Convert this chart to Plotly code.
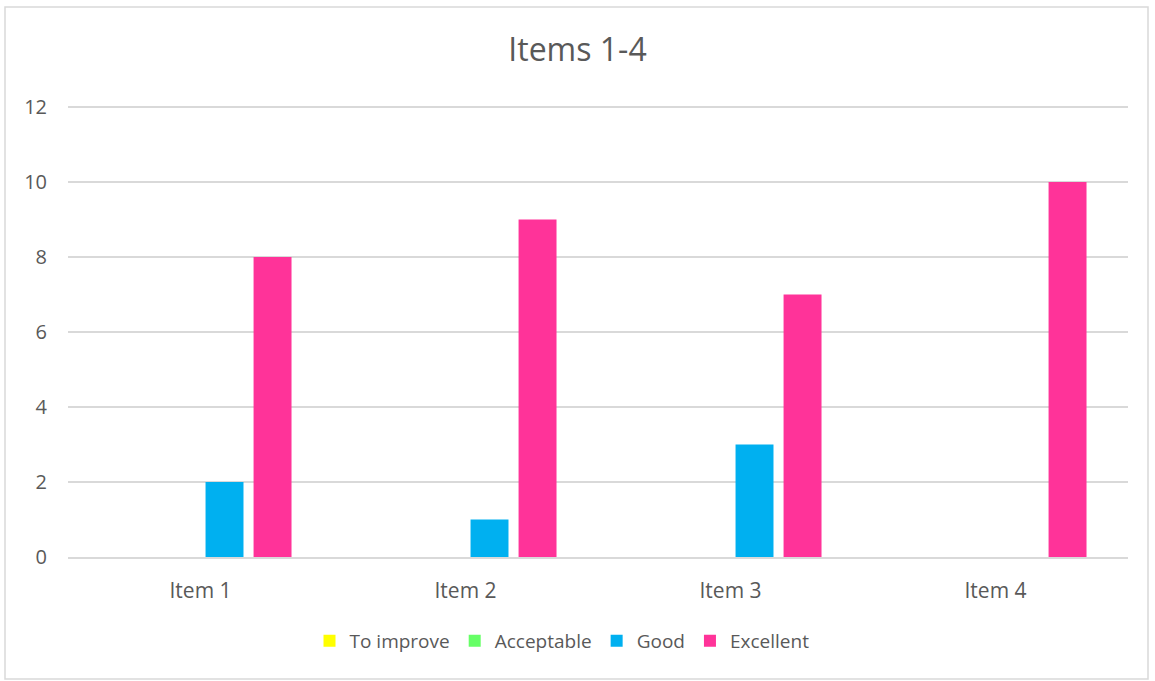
import plotly.graph_objects as go

categories = ["Item 1", "Item 2", "Item 3", "Item 4"]
series_names = ["To improve", "Acceptable", "Good", "Excellent"]
to_improve = [0, 0, 0, 0]
acceptable = [0, 0, 0, 0]
good = [2, 1, 3, 0]
excellent = [8, 9, 7, 10]
colors = ["#FFFF00", "#66FF66", "#00B0F0", "#FF3399"]
y_ticks = [0, 2, 4, 6, 8, 10, 12]

W, H = 1155, 681
L, R, T, B = 68, 27, 106, 124
pw, ph = W - L - R, H - T - B

fig = go.Figure()
for name, vals, col in zip(series_names, [to_improve, acceptable, good, excellent], colors):
    fig.add_trace(go.Bar(x=categories, y=vals, name=name, marker=dict(color=col, line=dict(width=0))))

font = "Open Sans, Liberation Sans, sans-serif"
fig.update_layout(
    width=W, height=H,
    margin=dict(l=L, r=R, t=T, b=B),
    paper_bgcolor="white", plot_bgcolor="white",
    barmode="group", bargap=0.275, bargroupgap=0.21,
    font=dict(family=font, color="#595959", size=19),
    title=dict(text="Items 1-4", x=0.5, xanchor="center", y=1 - 50 / H, yanchor="middle",
               font=dict(size=32, color="#595959", family=font)),
    xaxis=dict(showgrid=False, showline=True, linecolor="#D9D9D9", linewidth=1.5,
               ticks="", tickfont=dict(size=21), ticklabelstandoff=14),
    yaxis=dict(range=[0, 12.03], tickvals=y_ticks, showgrid=True, gridcolor="#D9D9D9", gridwidth=1.5,
               zeroline=False, showline=False, ticks="", tickfont=dict(size=20), ticklabelstandoff=20),
    legend=dict(orientation="h", x=(562 - L) / pw, xanchor="center", y=-(641 - 557) / ph, yanchor="middle",
                font=dict(size=19, color="#595959"), itemwidth=30, traceorder="normal"),
    showlegend=True,
)
fig.add_shape(type="rect", xref="paper", yref="paper",
              x0=(5 - L) / pw, x1=(1148 - L) / pw, y0=-(679 - T - ph) / ph, y1=1 + (T - 7) / ph,
              line=dict(color="#D9D9D9", width=1.5), fillcolor="rgba(0,0,0,0)", layer="below")
fig.write_html("out.html", config={"displayModeBar": False},
               post_script="document.body.style.margin='0';document.body.style.overflow='hidden';")
